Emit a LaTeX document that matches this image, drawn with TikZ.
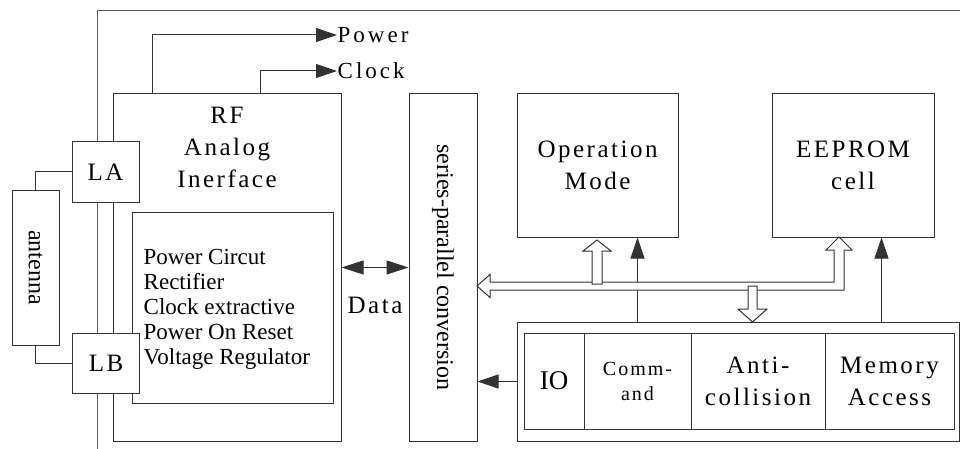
\documentclass[tikz,border=0pt]{standalone}
\usepackage{fontspec}
\setmainfont{Liberation Serif}
\usetikzlibrary{arrows.meta}

% разрядка букв
\def\lsk{0.1em}
\newcommand\ls[1]{\lsloop#1\relax}
\def\lsloop#1#2{#1\ifx\relax#2\else\kern\lsk\expandafter\lsloop\expandafter#2\fi}

\tikzset{
  line/.style={draw=black!80, line width=1pt},
  box/.style={line, fill=white, inner sep=0pt},
  arr/.style={line, -{Triangle[length=21pt,width=14pt]}},
  dblarr/.style={line, {Triangle[length=22pt,width=14pt]}-{Triangle[length=22pt,width=14pt]}},
  hollow/.style={line, fill=white},
  txt/.style={font=\fontsize{25}{32}\selectfont, align=center, inner sep=0pt},
  sig/.style={font={\fontsize{23}{28}\selectfont\def\lsk{0.13em}}, inner sep=0.5pt},
  listtxt/.style={font=\fontsize{23}{25}\selectfont, align=left, inner sep=0pt},
  smalltxt/.style={font=\fontsize{20}{25}\selectfont, align=center, inner sep=0pt},
  rottxt/.style={font=\fontsize{24}{28}\selectfont, inner sep=0pt, rotate=-90}
}

\begin{document}
\begin{tikzpicture}[x=1pt,y=-1pt]
    \useasboundingbox (0,0) rectangle (960,449);

    % Рамка
    \draw[line, draw=black!65] (97.5,460) |- (970,10.5);

    % Аналоговый блок
    \node[box, minimum width=228pt, minimum height=347pt] (rf) at (227,267.5) {};
    \node[txt] (rftext) at (227,147) {\ls{RF}\\\ls{Analog}\\\ls{Inerface}};
    \node[box, minimum width=201pt, minimum height=191pt] (pc) at (232.5,307.5) {};
    \node[listtxt, anchor=west] (pctext) at (143.5,309)
        {Power Circut\\Rectifier\\Clock extractive\\Power On Reset\\Voltage Regulator};

    % Антенна
    \node[box, minimum width=67pt, minimum height=60pt, txt] (la) at (105.5,172) {\ls{LA}};
    \node[box, minimum width=67pt, minimum height=60pt, txt] (lb) at (106,363) {\ls{LB}};
    \node[box, minimum width=47pt, minimum height=155pt] (ant) at (35.5,267.5) {};
    \node[rottxt] (anttext) at (ant) {antenna};
    \draw[line] (la.west) -| (ant.north);
    \draw[line] (lb.west) -| (ant.south);

    % Power и Clock
    \node[sig, anchor=west] (pw) at (337,35) {\ls{Power}};
    \node[sig, anchor=west] (clk) at (337,71) {\ls{Clock}};
    \draw[arr] ([xshift=40pt]rf.north west) |- (pw.west);
    \draw[arr] ([xshift=148pt]rf.north west) |- (clk.west);

    % Преобразователь
    \node[box, minimum width=68pt, minimum height=347pt] (sp) at (443,267.5) {};
    \node[rottxt] (sptext) at (sp) {series-parallel conversion};
    \draw[dblarr] (rf.east) -- (sp.west);
    \node[txt] (data) at (375,305) {\ls{Data}};

    % Верхние блоки
    \node[box, minimum width=161pt, minimum height=143pt, txt] (op) at (597.5,165.5) {\ls{Operation}\\\ls{Mode}};
    \node[box, minimum width=162pt, minimum height=143pt, txt] (ee) at (853,165.5) {\ls{EEPROM}\\\ls{cell}};

    % Нижний блок
    \node[box, minimum width=442pt, minimum height=119pt] (ctl) at (738,381.5) {};
    \node[box, minimum width=60pt, minimum height=96pt, txt, font=\fontsize{27}{31}\selectfont] (io) at (554,381) {IO};
    \node[box, minimum width=107pt, minimum height=96pt, smalltxt] (cmd) at (637.5,381) {\ls{Comm-}\\\ls{and}};
    \node[box, minimum width=134pt, minimum height=96pt, txt] (anti) at (758,381) {\ls{Anti-}\\\ls{collision}};
    \node[box, minimum width=129pt, minimum height=96pt, txt] (mem) at (889.5,381) {\ls{Memory}\\\ls{Access}};

    % Стрелки
    \coordinate (c1) at ([xshift=121pt]ctl.north west);
    \coordinate (c2) at ([xshift=365pt]ctl.north west);
    \draw[arr] (ctl.west) -- (ctl.west -| sp.east);
    \draw[arr] (c1) -- (c1 |- op.south);
    \draw[arr] (c2) -- (c2 |- ee.south);

    % Шина
    \draw[hollow] (477,286) -- (490,274.5) -- (490,282) -- (834,282) -- (834,250) -- (826,250)
        -- (839,237) -- (852,250) -- (844,250) -- (844,290) -- (490,290) -- (490,297.5) -- cycle;
    \draw[hollow] (592,284) -- (592,251) -- (583,251) -- (597,240) -- (611,251) -- (602,251) -- (602,284) -- cycle;
    \draw[hollow] (748,286) -- (748,309) -- (738,309) -- (752.5,322) -- (767,309) -- (757,309) -- (757,286) -- cycle;
\end{tikzpicture}
\end{document}
